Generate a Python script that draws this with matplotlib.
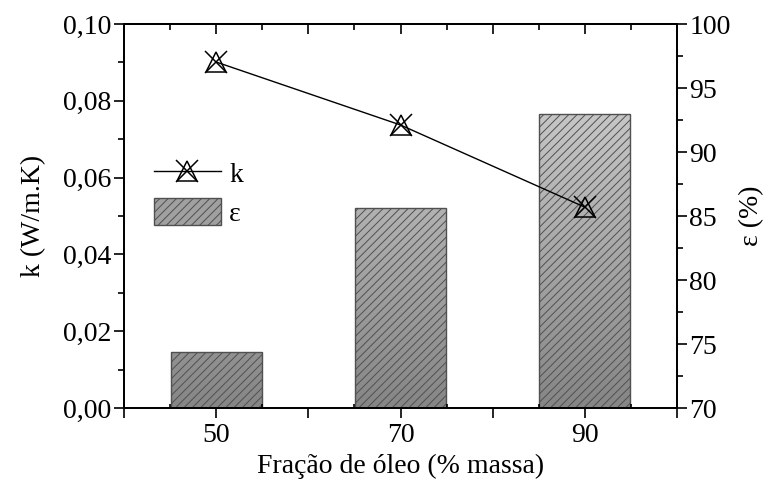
import numpy as np
import matplotlib
matplotlib.use("Agg")
import matplotlib.pyplot as plt
from matplotlib.colors import LinearSegmentedColormap, Normalize
from matplotlib.patches import Patch
from matplotlib.lines import Line2D
from matplotlib.legend_handler import HandlerTuple
from matplotlib.ticker import MultipleLocator, FixedLocator, FixedFormatter

# ---- data ----
oil_fraction = [50, 70, 90]
k_values = [0.0901, 0.0737, 0.0523]
eps_values = [74.4, 85.6, 93.0]
x_tick_labels = ["", "50", "", "70", "", "90", ""]

plt.rcParams['font.family'] = ['Liberation Serif', 'DejaVu Serif']
plt.rcParams['hatch.linewidth'] = 0.7
plt.rcParams['hatch.color'] = '#5a5a5a'
FS = 20

fig = plt.figure(figsize=(7.65, 4.79), dpi=100)
ax = fig.add_axes([124/765, 1-408/479, (677-124)/765, (408-24)/479])
ax2 = ax.twinx()

# bars on right axis with vertical gradient + hatch
cmap = LinearSegmentedColormap.from_list('g', ['#868686', '#dadada'])
norm = Normalize(70, 100)
bw = 9.9
for xv, ev in zip(oil_fraction, eps_values):
    x0 = xv - bw/2
    yy = np.linspace(70, ev, 200)[::-1].reshape(-1, 1)
    bar = ax2.bar(xv, ev - 70, bottom=70, width=bw, facecolor='none',
                  edgecolor='#505050', linewidth=1.0, hatch='////', zorder=3)[0]
    im = ax2.imshow(cmap(norm(yy)), extent=[x0, x0 + bw, 70, ev],
                    aspect='auto', zorder=2, interpolation='bilinear')
    im.set_clip_path(bar)

ax2.set_ylim(70, 100)
ax.set_xlim(40, 100)
ax.set_ylim(0, 0.10)

# line on left axis (drawn above bars)
ax.set_zorder(ax2.get_zorder() + 1)
ax.patch.set_visible(False)
ax.plot(oil_fraction, k_values, color='black', lw=1.0, zorder=3)
ax.plot(oil_fraction, k_values, ls='none', marker='^', ms=14, mfc='none',
        mec='black', mew=1.1, zorder=4)
ax.plot(oil_fraction, k_values, ls='none', marker='x', ms=16,
        mec='black', mew=1.1, zorder=5)

# ticks
ax.yaxis.set_major_locator(MultipleLocator(0.02))
ax.yaxis.set_minor_locator(MultipleLocator(0.01))
ax.set_yticks(ax.get_yticks())
ax.set_yticklabels([f"{v:.2f}".replace('.', ',') for v in ax.get_yticks()])
ax.set_ylim(0, 0.10)
ax.xaxis.set_major_locator(FixedLocator([40, 50, 60, 70, 80, 90, 100]))
ax.xaxis.set_major_formatter(FixedFormatter(x_tick_labels))
ax.xaxis.set_minor_locator(MultipleLocator(5))
ax.tick_params(axis='y', which='major', direction='out', length=7, width=1.2, labelsize=FS, pad=2)
ax.tick_params(axis='y', which='minor', direction='out', length=4, width=1.2)
ax.tick_params(axis='x', which='major', direction='out', length=7, width=1.2, labelsize=FS, pad=4)
ax.tick_params(axis='x', which='minor', direction='in', length=3, width=1.2)

ax2.yaxis.set_major_locator(MultipleLocator(5))
ax2.yaxis.set_minor_locator(MultipleLocator(2.5))
ax2.tick_params(axis='y', which='major', direction='out', length=7, width=1.2, labelsize=FS, pad=2)
ax2.tick_params(axis='y', which='minor', direction='out', length=4, width=1.2)

top = ax.secondary_xaxis('top')
top.xaxis.set_major_locator(FixedLocator([40, 50, 60, 70, 80, 90, 100]))
top.xaxis.set_minor_locator(MultipleLocator(5))
top.tick_params(which='major', direction='in', length=7, width=1.2, labeltop=False)
top.tick_params(which='minor', direction='in', length=4, width=1.2)
top.spines['top'].set_linewidth(1.3)

for a in (ax, ax2):
    for s in a.spines.values():
        s.set_linewidth(1.3)

ax.set_xlabel("Fração de óleo (% massa)", fontsize=FS, labelpad=4)
ax.set_ylabel("k (W/m.K)", fontsize=FS, labelpad=12)
ax2.set_ylabel("ε (%)", fontsize=FS, labelpad=6, rotation=90)

# legend
h_line = (Line2D([], [], color='black', lw=1.0),
          Line2D([], [], ls='none', marker='^', ms=14, mfc='none', mec='black', mew=1.1),
          Line2D([], [], ls='none', marker='x', ms=16, mec='black', mew=1.1))
h_bar = Patch(facecolor='#a0a0a0', edgecolor='#505050', hatch='////', lw=1.0)
ax.legend([h_line, h_bar], ['k', 'ε'], handler_map={tuple: HandlerTuple(ndivide=1, pad=0)},
          loc='upper left', bbox_to_anchor=(154/765, 1-159/479), bbox_transform=fig.transFigure,
          frameon=False, fontsize=FS, handlelength=2.4, handleheight=1.15,
          labelspacing=0.35, handletextpad=0.3, borderpad=0, borderaxespad=0)

fig.savefig("out.png", dpi=100)
